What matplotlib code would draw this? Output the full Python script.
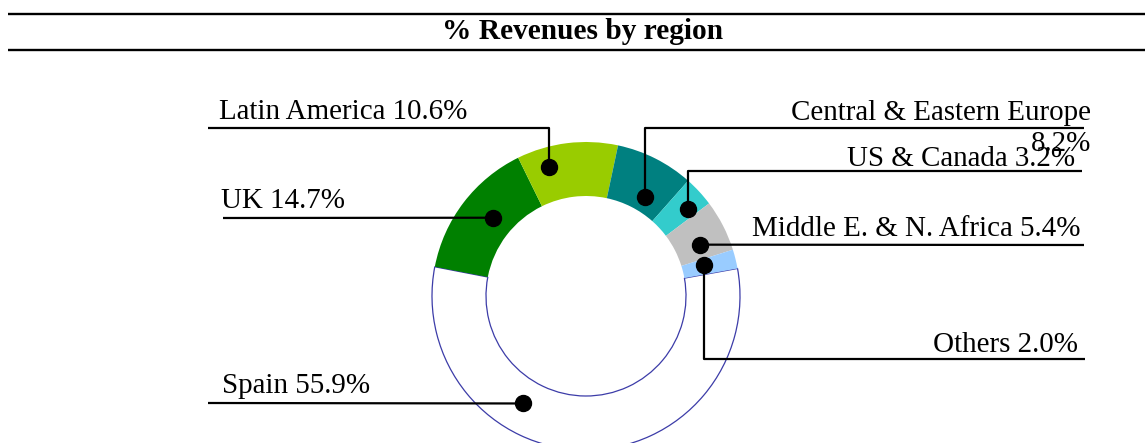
import numpy as np
import matplotlib
matplotlib.use("Agg")
import matplotlib.pyplot as plt

# data, clockwise from the right edge of Spain
regions = ["Spain", "UK", "Latin America", "Central & Eastern Europe",
           "US & Canada", "Middle E. & N. Africa", "Others"]
shares = [55.9, 14.7, 10.6, 8.2, 3.2, 5.4, 2.0]
colors = ["#ffffff", "#008000", "#99cc00", "#008080", "#33cccc", "#c0c0c0", "#99ccff"]
title = "% Revenues by region"

W, H = 1145, 443
plt.rcParams["font.family"] = ["Liberation Serif", "DejaVu Serif"]

fig = plt.figure(figsize=(W / 100, H / 100), dpi=100)
ax = fig.add_axes([0, 0, 1, 1])

cx, cy = 586, H - 296
R, ring = 154, 54
wedges, _ = ax.pie(shares, colors=colors, startangle=10.3, counterclock=False,
                   radius=R, center=(cx, cy),
                   wedgeprops=dict(width=ring, linewidth=0))
wedges[0].set_edgecolor("#3c3ca8")
wedges[0].set_linewidth(0.9)

ax.set_xlim(0, W)
ax.set_ylim(0, H)
ax.set_aspect("equal")
ax.axis("off")

# label layout (pixel coords from top): anchor position inside wedge,
# leader path and text placement (baseline of last text line)
layout = {
    "Spain":                    dict(frac=0.35, rad=0.81, path=[(208, 403)], txt=(222, 393), ha="left"),
    "UK":                       dict(frac=0.45, rad=0.79, path=[(223, 218)], txt=(221, 208), ha="left"),
    "Latin America":            dict(frac=0.73, rad=0.87, path=[None, (208, 128)], elbow=128, txt=(219, 119), ha="left"),
    "Central & Eastern Europe": dict(frac=0.37, rad=0.75, path=[None, (1084, 128)], elbow=128, txt=(1091, 151), ha="right", wrap=True),
    "US & Canada":              dict(frac=0.31, rad=0.87, path=[None, (1082, 171)], elbow=171, txt=(1075, 166), ha="right"),
    "Middle E. & N. Africa":    dict(frac=0.35, rad=0.81, path=[(1084, 245)], txt=(1081, 236), ha="right"),
    "Others":                   dict(frac=0.62, rad=0.79, path=[None, (1085, 359)], elbow=359, txt=(1078, 352), ha="right"),
}

for w, name, val in zip(wedges, regions, shares):
    lay = layout[name]
    ang = np.deg2rad(w.theta1 + lay["frac"] * (w.theta2 - w.theta1))
    px = cx + lay["rad"] * R * np.cos(ang)
    py = cy + lay["rad"] * R * np.sin(ang)
    xs, ys = [px], [py]
    for pt in lay["path"]:
        if pt is None:
            xs.append(px)
            ys.append(H - lay["elbow"])
        else:
            xs.append(pt[0])
            ys.append(H - pt[1])
    ax.plot(xs, ys, color="black", lw=1.6, solid_capstyle="butt", zorder=3)
    ax.plot(px, py, "o", color="black", ms=11.5, zorder=4)
    sep = "\n" if lay.get("wrap") else " "
    ax.text(lay["txt"][0], H - lay["txt"][1], f"{name}{sep}{val:.1f}%",
            ha=lay["ha"], va="baseline", multialignment="right",
            fontsize=20.9, linespacing=1.24, zorder=5)

# title band
for yl in (14, 50):
    ax.plot([8, W], [H - yl, H - yl], color="black", lw=1.7, solid_capstyle="butt")
ax.text(583, H - 39, title, ha="center", va="baseline", fontsize=21.2, fontweight="bold")

fig.savefig("out.png", dpi=100)
